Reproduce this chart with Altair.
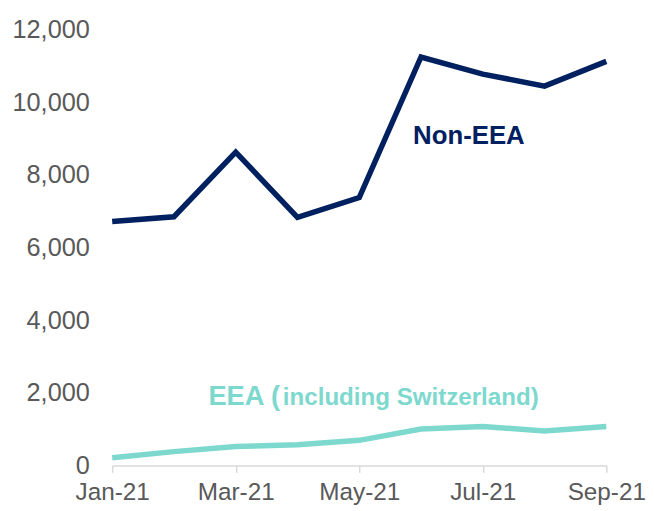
import altair as alt
import pandas as pd

months = ["Jan-21", "Feb-21", "Mar-21", "Apr-21", "May-21", "Jun-21", "Jul-21", "Aug-21", "Sep-21"]
non_eea = [6720, 6850, 8630, 6830, 7380, 11250, 10780, 10450, 11130]
eea = [210, 380, 520, 570, 690, 1000, 1070, 950, 1070]
series_names = ["Non-EEA", "EEA"]
series_colors = ["#002060", "#7DD8CE"]
x_tick_labels = ["Jan-21", "Mar-21", "May-21", "Jul-21", "Sep-21"]
y_ticks = [0, 2000, 4000, 6000, 8000, 10000, 12000]

rows = []
for m, a, b in zip(months, non_eea, eea):
    rows.append({"month": m, "value": a, "series": "Non-EEA"})
    rows.append({"month": m, "value": b, "series": "EEA"})
df = pd.DataFrame(rows)

font = "Liberation Sans"
label_color = "#595959"

x_enc = alt.X(
    "month:O",
    sort=months,
    scale=alt.Scale(type="point", padding=0),
    axis=alt.Axis(
        values=x_tick_labels,
        labelAngle=0,
        title=None,
        domainColor="#D9D9D9",
        domainWidth=1.5,
        tickColor="#D9D9D9",
        tickWidth=1.5,
        tickSize=7,
        labelFont=font,
        labelFontSize=24.5,
        labelColor=label_color,
        labelPadding=8,
        grid=False,
    ),
)
y_enc = alt.Y(
    "value:Q",
    scale=alt.Scale(domain=[0, 12000], nice=False),
    axis=alt.Axis(
        values=y_ticks,
        format=",.0f",
        title=None,
        grid=False,
        domain=False,
        ticks=False,
        tickSize=0,
        labelFont=font,
        labelFontSize=25.5,
        labelColor=label_color,
        labelPadding=23,
    ),
)

lines = alt.Chart(df).mark_line(strokeWidth=5.5).encode(
    x=x_enc,
    y=y_enc,
    color=alt.Color("series:N", scale=alt.Scale(domain=series_names, range=series_colors), legend=None),
    detail="series:N",
)

non_lbl = pd.DataFrame({"month": ["Jul-21"], "value": [8852], "text": ["Non-EEA"]})
eea_lbl1 = pd.DataFrame({"month": ["May-21"], "value": [1654], "text": ["EEA ("]})
eea_lbl2 = pd.DataFrame({"month": ["May-21"], "value": [1654], "text": ["including Switzerland)"]})

t1 = alt.Chart(non_lbl).mark_text(
    font=font, fontSize=26, fontWeight="bold", color="#002060",
    align="center", baseline="alphabetic", dx=-14,
).encode(x=alt.X("month:O", sort=months), y="value:Q", text="text:N")

t2 = alt.Chart(eea_lbl1).mark_text(
    font=font, fontSize=27.5, fontWeight="bold", color="#7DD8CE",
    align="left", baseline="alphabetic", dx=-152,
).encode(x=alt.X("month:O", sort=months), y="value:Q", text="text:N")

t3 = alt.Chart(eea_lbl2).mark_text(
    font=font, fontSize=24.3, fontWeight="bold", color="#7DD8CE",
    align="left", baseline="alphabetic", dx=-77,
).encode(x=alt.X("month:O", sort=months), y="value:Q", text="text:N")

chart = (
    alt.layer(lines, t1, t2, t3)
    .properties(
        width=498,
        height=439,
        autosize=alt.AutoSizeParams(type="none"),
        padding={"left": 105, "top": 20, "right": 40, "bottom": 44},
        background="white",
    )
    .configure_view(stroke=None)
)

chart.save("out.html", embed_options={"renderer": "svg", "actions": False})
